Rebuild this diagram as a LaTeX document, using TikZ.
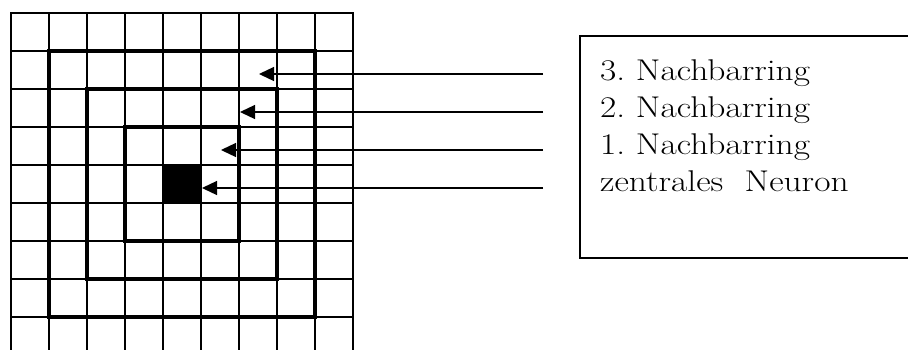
\documentclass[tikz,border=0pt]{standalone}
\usepackage{fontspec}
\setmainfont{Latin Modern Roman}
\usetikzlibrary{arrows.meta}
\frenchspacing
\newcommand{\legtext}[1]{\scalebox{1.18}[1]{#1}}
\begin{document}
\begin{tikzpicture}[x=1pt,y=-1pt,
  gridline/.style={line width=2pt},
  ring/.style={line width=4.2pt},
  pointer/.style={line width=1.3pt,-{Triangle[length=15pt,width=14pt]}},
  legendbox/.style={line width=1.3pt},
  legendtext/.style={anchor=base west,inner sep=0pt,font=\fontsize{30}{36}\selectfont}]
\useasboundingbox (0,0) rectangle (908,349);
\begin{scope}
\clip (0,0) rectangle (908,349);
% grid
\foreach \i in {0,...,9}{
  \draw[gridline] ({11+38*\i},13) -- ({11+38*\i},360);
}
\foreach \j in {0,...,8}{
  \draw[gridline] (10,{13+38*\j}) -- (354,{13+38*\j});
}
% rings
\draw[ring] (49,51) rectangle (315,317);
\draw[ring] (87,89) rectangle (277,279);
\draw[ring] (125,127) rectangle (239,241);
\fill (163,165) rectangle (201,203);
% legend box
\draw[legendbox] (580,36) rectangle (920,258);
\end{scope}
% legend texts
\node[legendtext] (t3) at (600,80) {\legtext{3. Nachbarring}};
\node[legendtext] (t2) at (600,117) {\legtext{2. Nachbarring}};
\node[legendtext] (t1) at (600,154) {\legtext{1. Nachbarring}};
\node[legendtext] (t0) at (600,191) {\legtext{zentrales\ \ Neuron}};
% arrow ends
\coordinate (s3) at (543,74);
\coordinate (s2) at (543,112);
\coordinate (s1) at (543,150);
\coordinate (s0) at (543,188);
\coordinate (e3) at (259,74);
\coordinate (e2) at (240,112);
\coordinate (e1) at (221,150);
\coordinate (e0) at (202,188);
\draw[pointer] (s3) -- (e3);
\draw[pointer] (s2) -- (e2);
\draw[pointer] (s1) -- (e1);
\draw[pointer] (s0) -- (e0);
\end{tikzpicture}
\end{document}
